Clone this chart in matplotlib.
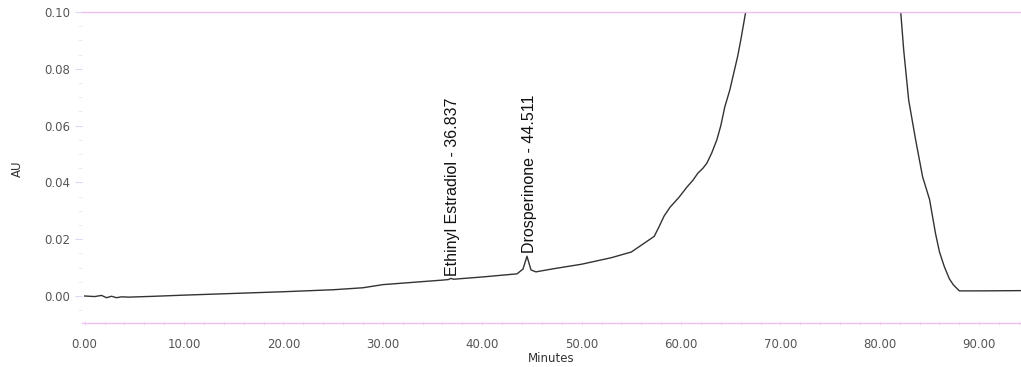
import matplotlib.pyplot as plt
from matplotlib.ticker import MultipleLocator, FormatStrFormatter

plt.rcParams['font.family'] = ['DejaVu Sans']

# chromatogram trace (minutes, AU)
minutes = [0.0, 1.0, 1.7, 2.2, 2.7, 3.2, 3.7, 4.5, 7.0, 10.0, 15.0, 20.0, 25.0,
           28.0, 30.0, 33.0, 36.0, 36.6, 36.85, 37.1, 40.0, 43.5, 44.1, 44.5,
           44.9, 45.4, 47.0, 50.0, 53.0, 55.0, 57.3, 57.8, 58.3, 58.9, 59.8,
           60.6, 61.2, 61.7, 62.2, 62.6, 63.1, 63.6, 64.0, 64.4, 64.9, 65.3,
           65.7, 66.0, 66.5, 70.0, 74.0, 78.0, 82.1, 82.4, 82.9, 83.3, 83.6,
           84.3, 85.0, 85.6, 86.0, 86.5, 87.0, 87.4, 88.0, 90.0, 94.5]
absorb = [0.0, -0.0002, 0.0002, -0.0006, -0.0001, -0.0006, -0.0003, -0.0004,
          -0.0001, 0.0003, 0.0009, 0.0015, 0.0022, 0.0029, 0.0040, 0.0048,
          0.0056, 0.0058, 0.0062, 0.0059, 0.0067, 0.0078, 0.0095, 0.0140,
          0.0092, 0.0085, 0.0095, 0.0112, 0.0135, 0.0155, 0.0210, 0.0245,
          0.0282, 0.0313, 0.0348, 0.0384, 0.0408, 0.0433, 0.0450, 0.0468,
          0.0505, 0.0550, 0.0600, 0.0666, 0.0725, 0.0785, 0.0845, 0.0900,
          0.1000, 0.2000, 0.3000, 0.2000, 0.1000, 0.0866, 0.0690, 0.0610,
          0.0550, 0.0420, 0.0340, 0.0220, 0.0155, 0.0102, 0.0060, 0.0039,
          0.0018, 0.0018, 0.0019]

peak_names = ['Ethinyl Estradiol - 36.837', 'Drosperinone - 44.511']
peak_times = [36.837, 44.511]
peak_heights = [0.0063, 0.0145]

x_ticks = [0, 10, 20, 30, 40, 50, 60, 70, 80, 90]
y_ticks = [0.0, 0.02, 0.04, 0.06, 0.08, 0.10]

fig = plt.figure(figsize=(10.21, 3.67), dpi=100)
ax = fig.add_axes([0.080, 0.120, 0.920, 0.847])

ax.plot(minutes, absorb, color='#333333', lw=1.0)

for name, t, h in zip(peak_names, peak_times, peak_heights):
    ax.text(t + 0.2, h + 0.0008, name, rotation=90, ha='center', va='bottom',
            fontsize=11.5, color='#111111', family='Liberation Sans')

ax.set_xlim(-0.3, 94.2)
ax.set_ylim(-0.0095, 0.1)
ax.set_xticks(x_ticks)
ax.set_yticks(y_ticks)
ax.xaxis.set_major_formatter(FormatStrFormatter('%.2f'))
ax.yaxis.set_major_formatter(FormatStrFormatter('%.2f'))
ax.xaxis.set_minor_locator(MultipleLocator(2))
ax.yaxis.set_minor_locator(MultipleLocator(0.005))

pink = '#f0bff2'
for side in ['left', 'right']:
    ax.spines[side].set_visible(False)
for side in ['top', 'bottom']:
    ax.spines[side].set_color(pink)
    ax.spines[side].set_linewidth(1.0)

ax.tick_params(axis='x', which='both', direction='inout', color='#f6dcf6',
               length=3, labelsize=8.5, labelcolor='#555555', pad=9)
ax.tick_params(axis='y', which='major', color='#e0d4f0', length=5,
               labelsize=8.5, labelcolor='#555555', pad=3)
ax.tick_params(axis='y', which='minor', color='#ece4f4', length=3)

ax.set_xlabel('Minutes', fontsize=8.5, color='#333333', labelpad=1)
ax.set_ylabel('AU', fontsize=8.5, color='#333333')
ax.yaxis.set_label_coords(-0.061, 0.495)

fig.savefig('out.png', dpi=100)
